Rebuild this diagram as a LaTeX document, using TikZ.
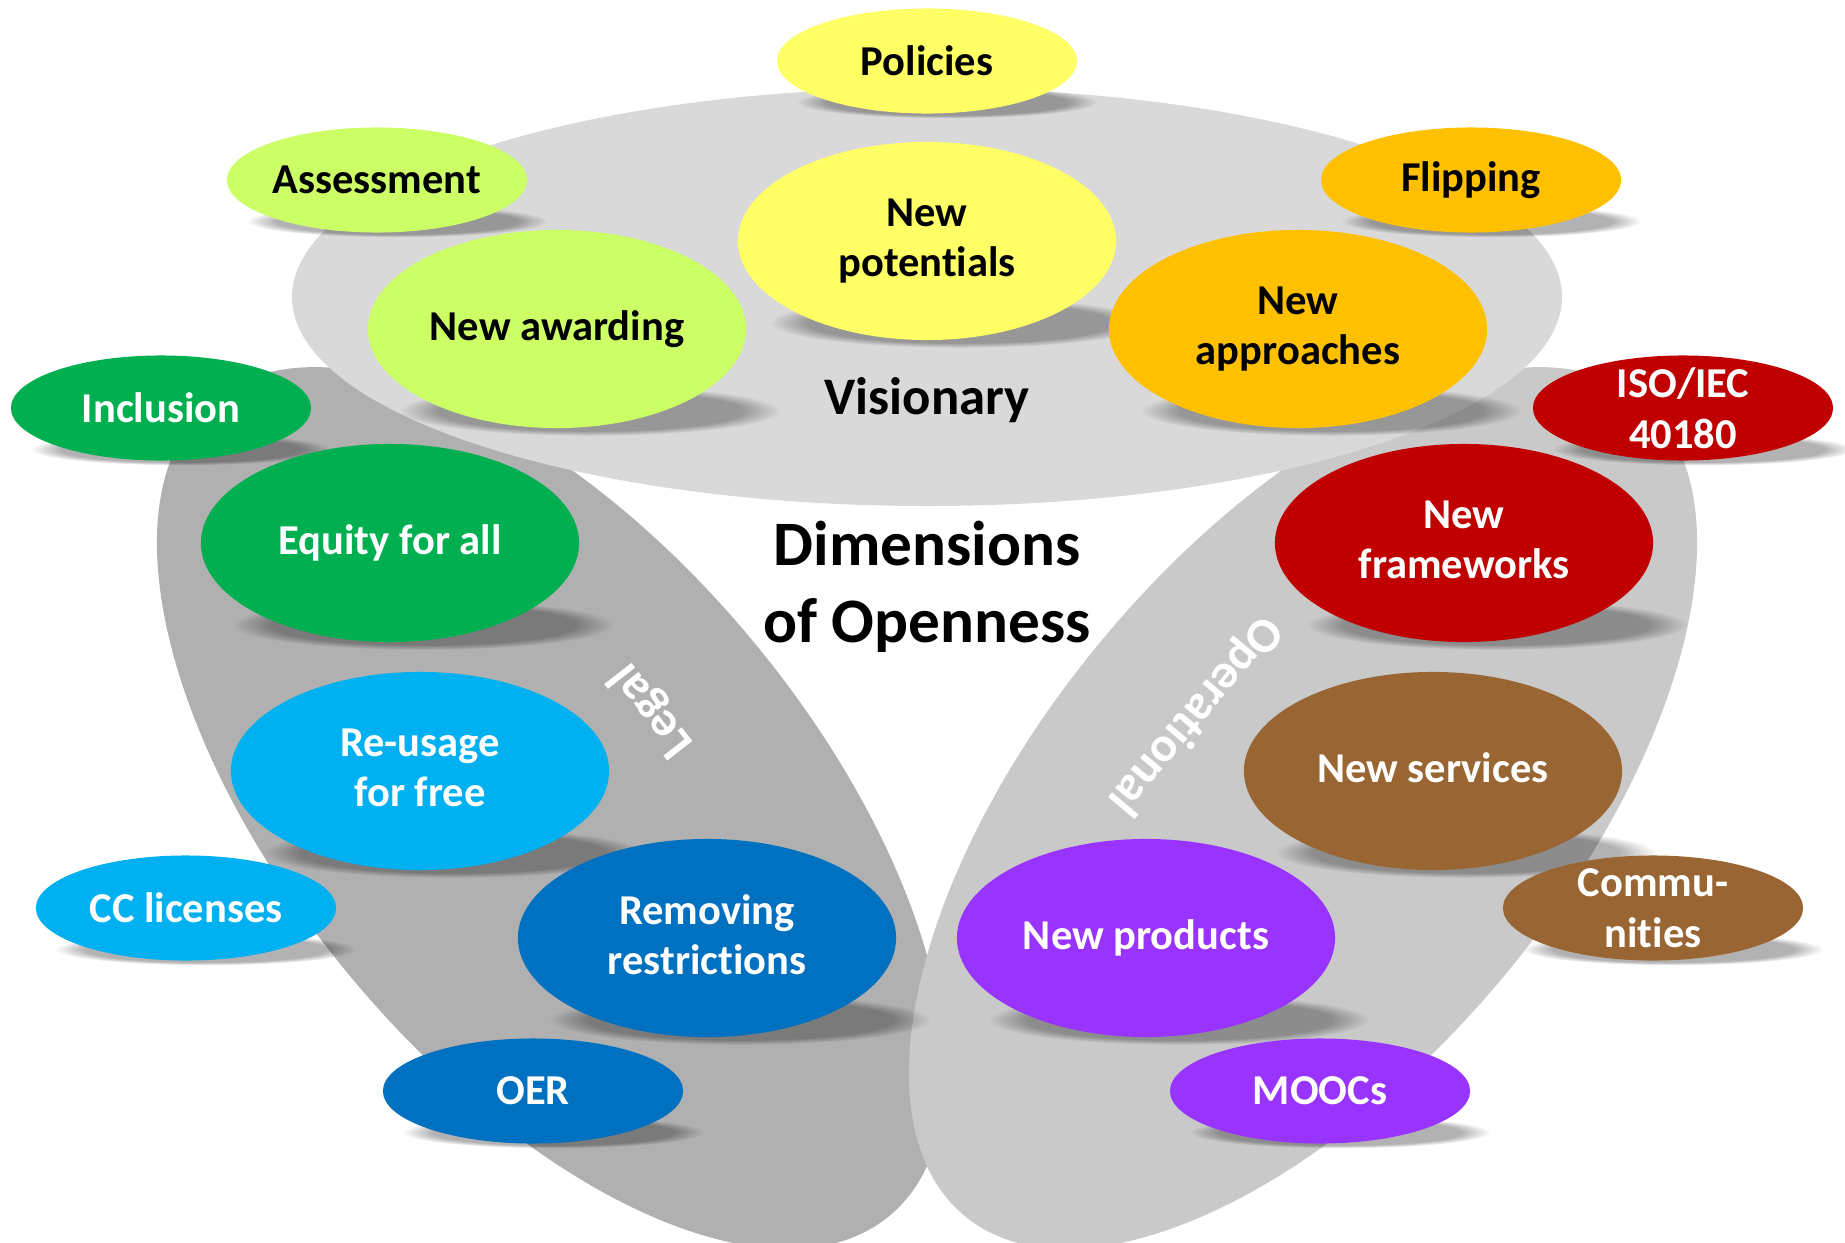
\documentclass[tikz,border=0pt]{standalone}
\usepackage{fontspec}
\setmainfont{Carlito}[Ligatures=NoCommon, Contextuals=NoAlternate]
\usetikzlibrary{shapes.geometric, fadings}

\definecolor{visiongrey}{HTML}{D9D9D9}
\definecolor{legalgrey}{HTML}{B0B0B0}
\definecolor{opergrey}{HTML}{C9C9C9}
\definecolor{cyellow}{HTML}{FFFF66}
\definecolor{clime}{HTML}{CCFF66}
\definecolor{corange}{HTML}{FFC000}
\definecolor{cgreen}{HTML}{00B050}
\definecolor{cred}{HTML}{C00000}
\definecolor{ccyan}{HTML}{00B0F0}
\definecolor{cbrown}{HTML}{996633}
\definecolor{cblue}{HTML}{0070C0}
\definecolor{cpurple}{HTML}{9933FF}

\pgfdeclarelayer{petals}
\pgfdeclarelayer{shadows}
\pgfsetlayers{petals,shadows,main}

\tikzset{
  oval/.style={ellipse, align=center, inner xsep=0pt, inner ysep=-3pt,
    minimum width=3cm, minimum height=1.05cm},
  bigoval/.style={oval, minimum width=3.78cm, minimum height=1.98cm,
    execute at end node=\vphantom{p}},
  whitetext/.style={text=white},
  softshadow/.style={fill=black, fill opacity=.3,
    path fading=circle with fuzzy edge 20 percent}
}

\begin{document}
\begin{tikzpicture}[x=0.01cm, y=-0.01cm,
  every node/.style={font=\bfseries\fontsize{12.1}{14.4}\selectfont}]
\useasboundingbox (0,0) rectangle (1845,1242);

% visionary
\node[oval, fill=cyellow] (pol) at (927,61) {Policies};
\node[oval, fill=clime] (ass) at (377,180) {Assessment};
\node[oval, fill=corange] (flip) at (1471,180) {Flipping};
\node[bigoval, fill=cyellow] (pot) at (927,241) {New\\potentials};
\node[bigoval, fill=clime] (award) at (557,329) {New awarding};
\node[bigoval, fill=corange] (appr) at (1298,329) {New\\approaches};
\node[font=\bfseries\fontsize{15}{18}\selectfont] (vis) at (927,400) {Visionary};

% legal
\node[oval, fill=cgreen, whitetext] (incl) at (161,408) {Inclusion};
\node[bigoval, fill=cgreen, whitetext] (equity) at (390,543) {Equity for all};
\node[bigoval, fill=ccyan, whitetext] (reuse) at (420,771) {Re-usage\\for free};
\node[oval, fill=ccyan, whitetext] (cc) at (186,908) {CC licenses};
\node[bigoval, fill=cblue, whitetext] (remove) at (707,938) {Removing\\restrictions};
\node[oval, fill=cblue, whitetext] (oer) at (533,1091) {OER};
\node[whitetext, rotate=128, font=\bfseries\fontsize{14}{17}\selectfont] (legal) at (652,710) {Legal};

% operational
\node[oval, fill=cred, whitetext] (iso) at (1683,408) {ISO/IEC\\40180};
\node[bigoval, fill=cred, whitetext] (frame) at (1464,543) {New\\frameworks};
\node[bigoval, fill=cbrown, whitetext] (serv) at (1433,771) {New services};
\node[oval, fill=cbrown, whitetext] (comm) at (1653,908) {Commu-\\nities};
\node[bigoval, fill=cpurple, whitetext] (prod) at (1146,938) {New products};
\node[oval, fill=cpurple, whitetext] (mooc) at (1320,1091) {MOOCs};
\node[whitetext, rotate=-130, font=\bfseries\fontsize{14}{17}\selectfont] (oper) at (1195,715) {Operational};

\node[align=center, font=\bfseries\fontsize{18}{21.8}\selectfont] (dim) at (927,587) {Dimensions\\of Openness};

% the three petals
\begin{pgfonlayer}{petals}
\fill[legalgrey, rotate around={-50.3:(551,808)}] (551,808) ellipse [x radius=530, y radius=262];
\fill[opergrey, rotate around={50.3:(1303,808)}] (1303,808) ellipse [x radius=530, y radius=262];
\fill[visiongrey] (927,297) ellipse [x radius=635, y radius=209];
\end{pgfonlayer}

% shadows under the ovals
\begin{pgfonlayer}{shadows}
\foreach \n in {pol,ass,flip,incl,iso,cc,comm,oer,mooc}
  \fill[softshadow] ([xshift=0.2cm, yshift=0.12cm]\n.south) ellipse [x radius=1.5cm, y radius=0.16cm];
\foreach \n in {pot,award,appr,equity,frame,reuse,serv,remove,prod}
  \fill[softshadow] ([xshift=0.33cm, yshift=0.18cm]\n.south) ellipse [x radius=1.9cm, y radius=0.25cm];
\end{pgfonlayer}

\end{tikzpicture}
\end{document}
